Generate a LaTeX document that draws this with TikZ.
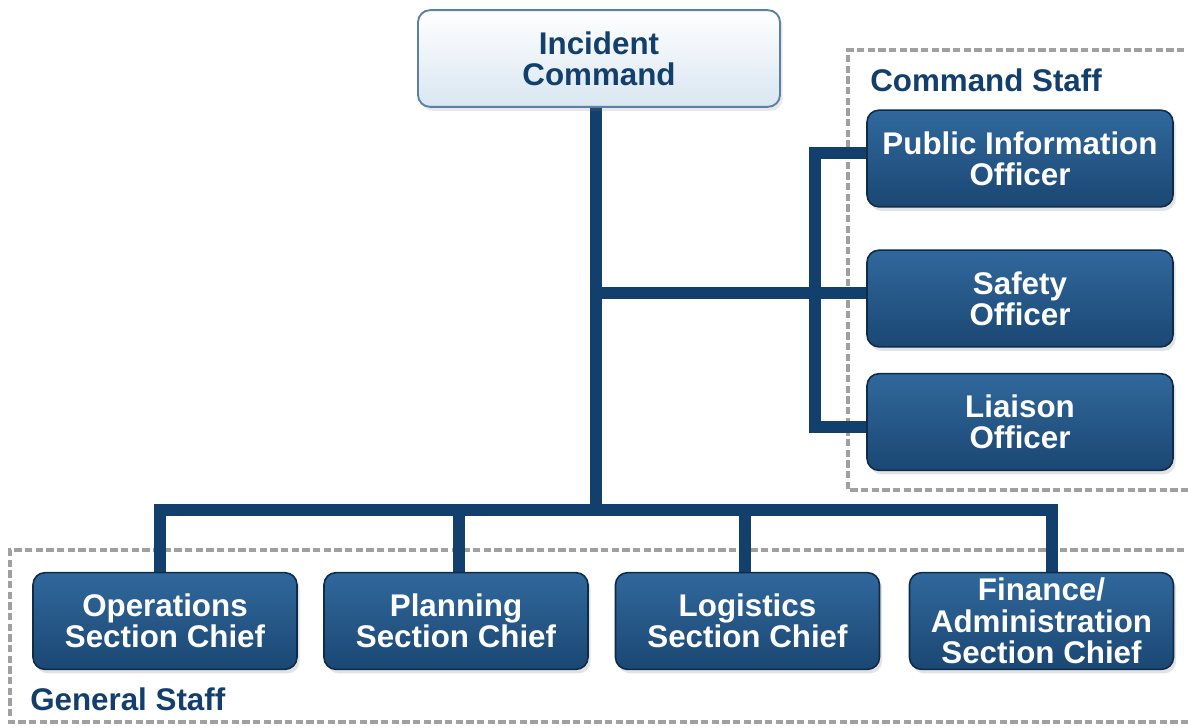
\documentclass[tikz,border=0pt]{standalone}
\usepackage{fontspec}
\setmainfont{Liberation Sans}
\usetikzlibrary{shadows}
\pgfdeclarelayer{background}
\pgfsetlayers{background,main}
\definecolor{navy}{HTML}{123F6B}
\definecolor{boxtop}{HTML}{30689C}
\definecolor{boxbot}{HTML}{1B4773}
\definecolor{boxedge}{HTML}{0E2C4A}
\definecolor{icedge}{HTML}{5A7FA8}
\definecolor{icbot}{HTML}{D9E6F1}
\definecolor{dashgray}{HTML}{A0A0A0}
\tikzset{
  staffbox/.style={draw=boxedge, line width=1.2pt, rounded corners=9pt,
    top color=boxtop, bottom color=boxbot, text=white,
    font=\bfseries\fontsize{23.5}{23.5}\selectfont, align=center,
    minimum width=198pt, minimum height=72.5pt, inner sep=0pt,
    drop shadow={opacity=0.22, shadow xshift=2pt, shadow yshift=-3pt}},
  cmdbox/.style={staffbox, minimum width=229.5pt},
  icbox/.style={draw=icedge, line width=1.4pt, rounded corners=9pt,
    top color=white, bottom color=icbot, text=navy,
    font=\bfseries\fontsize{23.5}{23.5}\selectfont, align=center,
    minimum width=271.5pt, minimum height=72.5pt, inner sep=0pt,
    drop shadow={opacity=0.18, shadow xshift=2pt, shadow yshift=-3pt}},
  conn/.style={draw=navy, line width=9pt, line join=miter},
  grouplabel/.style={text=navy, font=\bfseries\fontsize{23.5}{23.5}\selectfont, anchor=west, inner sep=0pt},
  groupline/.style={draw=dashgray, line width=2.8pt, dash pattern=on 5.5pt off 2.5pt}
}
\begin{document}
\begin{tikzpicture}[x=0.75pt, y=-0.75pt]
\useasboundingbox (0,0) rectangle (1188,726);
\clip (0,0) rectangle (1188,726);
% boxes
\path (599,58.5) node[icbox] (ic) {Incident\\Command};
\path (1020,158.5) node[cmdbox] (pio) {Public Information\\Officer};
\path (1020,298.5) node[cmdbox] (saf) {Safety\\Officer};
\path (1020,422) node[cmdbox] (lia) {Liaison\\Officer};
\path (165,621) node[staffbox] (ops) {Operations\\Section Chief};
\path (456,621) node[staffbox] (pln) {Planning\\Section Chief};
\path (747.5,621) node[staffbox] (log) {Logistics\\Section Chief};
\path (1041.5,621) node[staffbox] (fin) {Finance/\\Administration\\Section Chief};
% group labels
\node[grouplabel] (cslab) at (870,80) {Command Staff};
\node[grouplabel] (gslab) at (30,699) {General Staff};
% junctions
\coordinate (jR) at (596,293);
\coordinate (jB) at (596,510);
\coordinate (br) at (815,153);
\begin{pgfonlayer}{background}
\fill[white] (0,0) rectangle (1188,726);
\draw[groupline] (1195,50) -- (848,50) -- (848,490) -- (1195,490);
\draw[groupline] (1195,550) -- (10,550) -- (10,722) -- (1195,722);
\draw[conn] (ic.south -| jB) -- (jB);
\draw[conn] (jR) -- (jR -| saf.west);
\draw[conn] (br -| pio.west) -- (br) -- (br |- 0,427) -- (lia.west |- 0,427);
\draw[conn] ([xshift=-3.75pt]ops.north) -- ([xshift=-3.75pt]ops.north |- jB) -- ([xshift=7.9pt]fin.north |- jB) -- ([xshift=7.9pt]fin.north);
\draw[conn] ([xshift=2.25pt]pln.north) -- ([xshift=2.25pt]pln.north |- jB);
\draw[conn] ([xshift=-1.9pt]log.north) -- ([xshift=-1.9pt]log.north |- jB);
\end{pgfonlayer}
\end{tikzpicture}
\end{document}
